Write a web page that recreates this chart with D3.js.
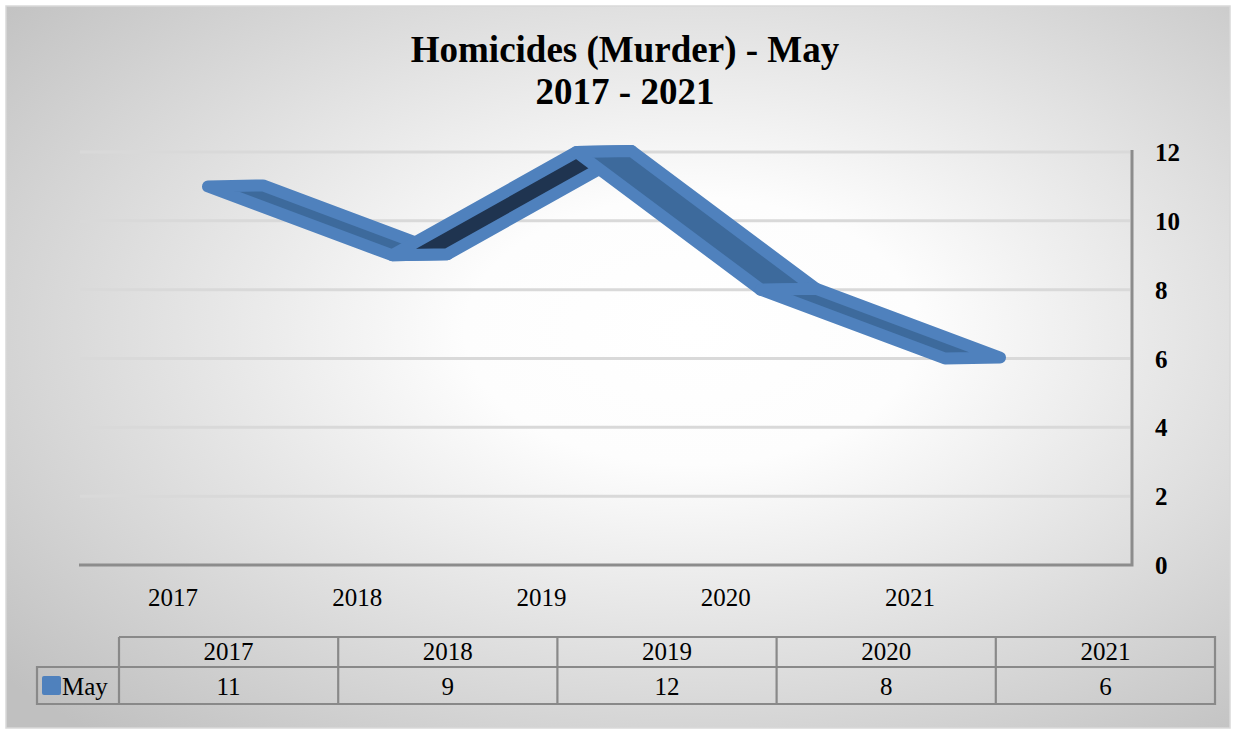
<!DOCTYPE html>
<head>
<meta charset="utf-8">
<title>Homicides (Murder) - May</title>
<style>
body { margin: 0; background: #fff; }
text { font-family: "Liberation Serif", "Times New Roman", serif; fill: #000; }
.grid { stroke: #d9d9d9; stroke-width: 3; }
.axisline { stroke: #8c8c8c; stroke-width: 3; fill: none; }
.tbl { stroke: #898989; stroke-width: 2.2; fill: none; }
</style>
</head>
<body>
<script src="https://cdn.jsdelivr.net/npm/d3@7"></script>
<script>

// data
var years = ["2017", "2018", "2019", "2020", "2021"];
var mayValues = [11, 9, 12, 8, 6];
var yTicks = [0, 2, 4, 6, 8, 10, 12];
var seriesName = "May";
var titleLines = ["Homicides (Murder) - May", "2017 - 2021"];

var width = 1236, height = 732;

var svg = d3.select("body").append("svg")
    .attr("width", width)
    .attr("height", height);

// background gradient (white centre, grey edges)
var defs = svg.append("defs");
var grad = defs.append("radialGradient")
    .attr("id", "bg")
    .attr("cx", 0.56).attr("cy", 0.45).attr("r", 0.74);
grad.append("stop").attr("offset", "0").attr("stop-color", "#ffffff");
grad.append("stop").attr("offset", "0.25").attr("stop-color", "#fdfdfd");
grad.append("stop").attr("offset", "1").attr("stop-color", "#c0c0c0");

svg.append("rect")
    .attr("x", 6).attr("y", 6)
    .attr("width", 1224).attr("height", 722)
    .attr("fill", "url(#bg)")
    .attr("stroke", "#d9d9d9")
    .attr("stroke-width", 1.5);

// title
svg.append("text")
    .attr("x", 625).attr("y", 62)
    .attr("text-anchor", "middle")
    .style("font-size", "37px")
    .style("font-weight", "bold")
    .selectAll("tspan")
    .data(titleLines)
    .enter().append("tspan")
    .attr("x", 625)
    .attr("dy", function(d, i) { return i === 0 ? 0 : 42; })
    .text(function(d) { return d; });

// scales
var y = d3.scaleLinear().domain([0, 12]).range([565, 152]);
var xLabel = d3.scalePoint().domain(years).range([173, 910]);
var depthX = 55, depthY = -1, frontOffset = 35;
function fx(yr) { return xLabel(yr) + frontOffset; }

// gridlines on the back wall
svg.append("g").selectAll("line")
    .data(yTicks.filter(function(d) { return d > 0; }))
    .enter().append("line")
    .attr("class", "grid")
    .attr("x1", 80).attr("x2", 1130)
    .attr("y1", function(d) { return y(d); })
    .attr("y2", function(d) { return y(d); });

// axis lines
svg.append("path")
    .attr("class", "axisline")
    .attr("d", "M79," + y(0) + "H1132V" + (y(12) - 2));

// y labels (right side)
svg.append("g").selectAll("text")
    .data(yTicks)
    .enter().append("text")
    .attr("x", 1155)
    .attr("y", function(d) { return y(d) + 9; })
    .style("font-size", "25px")
    .style("font-weight", "bold")
    .text(function(d) { return d; });

// category labels
svg.append("g").selectAll("text")
    .data(years)
    .enter().append("text")
    .attr("x", function(d) { return xLabel(d); })
    .attr("y", 606)
    .attr("text-anchor", "middle")
    .style("font-size", "25px")
    .text(function(d) { return d; });

// 3D ribbon: one quad per segment
var pts = years.map(function(yr, i) {
  return { x: fx(yr), y: y(mayValues[i]) };
});
var segs = d3.pairs(pts);

svg.append("g").selectAll("path")
    .data(segs)
    .enter().append("path")
    .attr("d", function(s) {
      var a = s[0], b = s[1];
      return "M" + a.x + "," + a.y +
             "L" + b.x + "," + b.y +
             "L" + (b.x + depthX) + "," + (b.y + depthY) +
             "L" + (a.x + depthX) + "," + (a.y + depthY) + "Z";
    })
    // rising segments show the underside, falling ones the top
    .attr("fill", function(s) { return s[1].y < s[0].y ? "#1f3450" : "#3d6a9c"; })
    .attr("stroke", "#4f81bd")
    .attr("stroke-width", 12)
    .attr("stroke-linejoin", "round");

// data table
var tx = d3.scaleBand().domain(years).range([119, 1215]);
var rowTop = 637, rowMid = 667, rowBot = 704, legendLeft = 37;
var tbl = svg.append("g");

tbl.append("path")
    .attr("class", "tbl")
    .attr("d", "M119," + rowTop + "H1215V" + rowBot + "H" + legendLeft + "V" + rowMid + "H1215" +
               "M119," + rowTop + "V" + rowBot);

tbl.selectAll("line.col")
    .data(years.slice(1))
    .enter().append("line")
    .attr("class", "tbl")
    .attr("x1", function(d) { return tx(d); })
    .attr("x2", function(d) { return tx(d); })
    .attr("y1", rowTop).attr("y2", rowBot);

tbl.selectAll("text.hdr")
    .data(years)
    .enter().append("text")
    .attr("x", function(d) { return tx(d) + tx.bandwidth() / 2; })
    .attr("y", 660)
    .attr("text-anchor", "middle")
    .style("font-size", "25px")
    .text(function(d) { return d; });

tbl.selectAll("text.val")
    .data(mayValues)
    .enter().append("text")
    .attr("x", function(d, i) { return tx(years[i]) + tx.bandwidth() / 2; })
    .attr("y", 695)
    .attr("text-anchor", "middle")
    .style("font-size", "25px")
    .text(function(d) { return d; });

// legend key
tbl.append("rect")
    .attr("x", 42).attr("y", 676)
    .attr("width", 19).attr("height", 19)
    .attr("rx", 2)
    .attr("fill", "#4f81bd");

tbl.append("text")
    .attr("x", 62).attr("y", 695)
    .style("font-size", "25px")
    .text(seriesName);

</script>
</body>
</html>
